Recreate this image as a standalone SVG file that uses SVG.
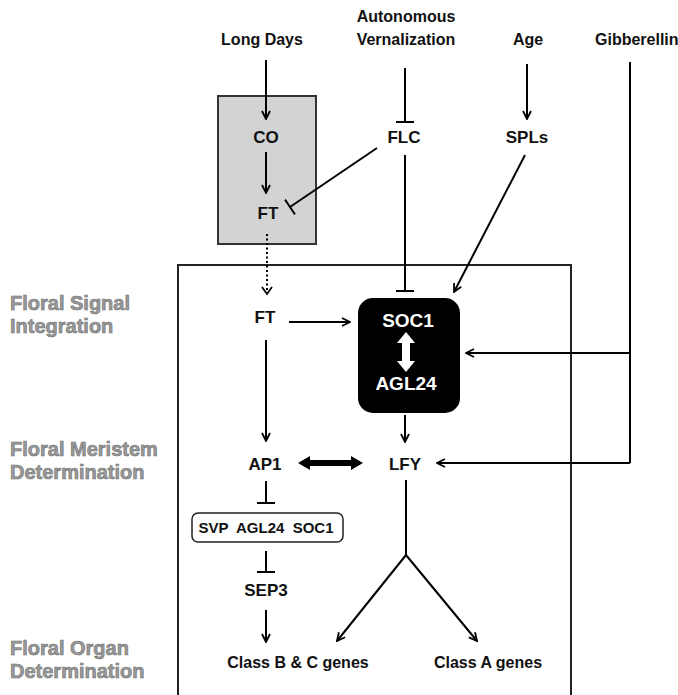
<svg xmlns="http://www.w3.org/2000/svg" width="678" height="695" viewBox="0 0 678 695">
  <defs>
    <marker id="arr" viewBox="0 0 10 10" refX="9" refY="5" markerWidth="10" markerHeight="10" markerUnits="userSpaceOnUse" orient="auto">
      <path d="M1,1 L9,5 L1,9" fill="none" stroke="#000" stroke-width="1.8"/>
    </marker>
    <marker id="bar" viewBox="0 0 10 18" refX="5" refY="9" markerWidth="10" markerHeight="18" markerUnits="userSpaceOnUse" orient="auto">
      <line x1="5" y1="0" x2="5" y2="18" stroke="#000" stroke-width="2"/>
    </marker>
  </defs>
  <style>
    text { font-family: "Liberation Sans", Arial, sans-serif; font-weight: bold; }
    .top { font-size: 16px; fill: #111; text-anchor: middle; }
    .lbl { font-size: 17px; fill: #111; text-anchor: middle; }
    .sm { font-size: 15px; fill: #111; text-anchor: middle; }
    .gene { font-size: 16px; fill: #111; text-anchor: middle; }
    .wh { font-size: 19px; fill: #fff; text-anchor: middle; }
    .sec { font-size: 20px; fill: #9a9a9a; stroke: #707070; stroke-width: 0.6; }
    .ln { stroke: #000; stroke-width: 2; fill: none; }
    .act { marker-end: url(#arr); }
    .inh { marker-end: url(#bar); }
  </style>

  <rect width="678" height="695" fill="#fff"/>

  <!-- frames -->
  <rect id="day-box" x="218" y="96" width="98" height="148" fill="#d3d3d3" stroke="#333" stroke-width="2"/>
  <path d="M178,695 V265 H571 V695" fill="none" stroke="#222" stroke-width="2"/>

  <!-- section labels -->
  <g id="sections">
    <text class="sec" x="10" y="310">Floral Signal</text>
    <text class="sec" x="10" y="333">Integration</text>
    <text class="sec" x="10" y="456">Floral Meristem</text>
    <text class="sec" x="10" y="479">Determination</text>
    <text class="sec" x="10" y="655">Floral Organ</text>
    <text class="sec" x="10" y="678">Determination</text>
  </g>

  <!-- inputs -->
  <g id="long-days"><text class="top" x="262" y="45">Long Days</text></g>
  <g id="autonomous"><text class="top" x="406" y="22">Autonomous</text><text class="top" x="406" y="45">Vernalization</text></g>
  <g id="age"><text class="top" x="528" y="45">Age</text></g>
  <g id="gibberellin"><text class="top" x="595" y="45" style="text-anchor:start">Gibberellin</text></g>

  <!-- genes -->
  <g id="co"><text class="lbl" x="266" y="143">CO</text></g>
  <g id="ft-leaf"><text class="lbl" x="268" y="219">FT</text></g>
  <g id="flc"><text class="lbl" x="404" y="143">FLC</text></g>
  <g id="spls"><text class="lbl" x="527" y="143">SPLs</text></g>
  <g id="ft"><text class="lbl" x="265" y="323">FT</text></g>
  <g id="soc1-agl24">
    <rect x="358" y="298" width="102" height="115" rx="15" fill="#000"/>
    <text class="wh" x="408" y="327">SOC1</text>
    <path d="M406,332 L415,343 L410,343 L410,361 L415,361 L406,372 L397,361 L402,361 L402,343 L397,343 Z" fill="#fff"/>
    <text class="wh" x="406" y="390">AGL24</text>
  </g>
  <g id="ap1"><text class="lbl" x="265" y="470">AP1</text></g>
  <g id="lfy"><text class="lbl" x="405" y="470">LFY</text></g>
  <g id="repressors">
    <rect x="192" y="513" width="151" height="29" rx="6" fill="#fff" stroke="#222" stroke-width="1.5"/>
    <text class="sm" x="266" y="533" xml:space="preserve">SVP  AGL24  SOC1</text>
  </g>
  <g id="sep3"><text class="lbl" x="266" y="596">SEP3</text></g>
  <g id="class-bc"><text class="gene" x="298" y="668">Class B &amp; C genes</text></g>
  <g id="class-a"><text class="gene" x="488" y="668">Class A genes</text></g>

  <!-- connectors -->
  <g id="connectors">
    <line class="ln act" x1="266" y1="60" x2="266" y2="119"/>
    <line class="ln act" x1="266" y1="152" x2="266" y2="193"/>
    <line class="ln" x1="267" y1="234" x2="267" y2="291" stroke-dasharray="2,2.5"/>
    <path d="M262,287 L267,294 L272,287" fill="none" stroke="#000" stroke-width="1.8"/>
    <line class="ln inh" x1="405" y1="68" x2="405" y2="122"/>
    <line class="ln inh" x1="377" y1="148" x2="290" y2="207"/>
    <line class="ln inh" x1="405" y1="155" x2="405" y2="291"/>
    <line class="ln act" x1="527" y1="64" x2="527" y2="119"/>
    <line class="ln act" x1="525" y1="155" x2="454" y2="292"/>
    <line class="ln act" x1="289" y1="322" x2="350" y2="322"/>
    <path class="ln" d="M630,62 V463"/>
    <line class="ln act" x1="630" y1="353" x2="466" y2="353"/>
    <line class="ln act" x1="630" y1="463" x2="437" y2="463"/>
    <line class="ln act" x1="266" y1="340" x2="266" y2="441"/>
    <line class="ln act" x1="405" y1="415" x2="405" y2="442"/>
    <path d="M298,463 L310,456 L310,460 L351,460 L351,456 L363,463 L351,470 L351,466 L310,466 L310,470 Z" fill="#000"/>
    <line class="ln inh" x1="266" y1="481" x2="266" y2="503"/>
    <line class="ln inh" x1="266" y1="551" x2="266" y2="572"/>
    <line class="ln act" x1="266" y1="610" x2="266" y2="642"/>
    <path class="ln" d="M406,480 V555"/>
    <line class="ln act" x1="406" y1="555" x2="337" y2="641"/>
    <line class="ln act" x1="406" y1="555" x2="477" y2="641"/>
  </g>
</svg>
